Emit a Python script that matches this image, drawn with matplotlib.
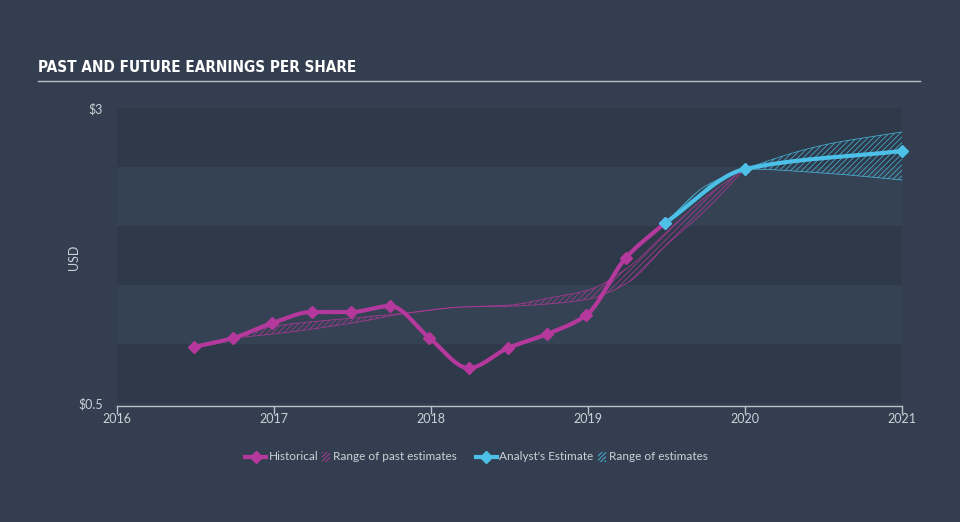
import numpy as np
import matplotlib
matplotlib.use('Agg')
from matplotlib import pyplot as plt
from matplotlib.lines import Line2D
from matplotlib.patches import Rectangle

# data
hist_years = [2016.49, 2016.74, 2016.99, 2017.24, 2017.49, 2017.74, 2017.99,
              2018.24, 2018.49, 2018.74, 2018.99, 2019.24, 2019.49]
hist_eps = [0.975, 1.051, 1.178, 1.271, 1.271, 1.322, 1.051,
            0.797, 0.966, 1.085, 1.246, 1.729, 2.025]

est_years = [2019.49, 2020.0, 2021.0]
est_eps = [2.025, 2.483, 2.636]

past_rng_years = [2016.74, 2017.0, 2017.5, 2017.85, 2018.2, 2018.5, 2018.75,
                  2019.0, 2019.25, 2019.5, 2019.75, 2020.0]
past_hi = [1.05, 1.15, 1.22, 1.263, 1.314, 1.33, 1.39, 1.457, 1.644, 1.949, 2.246, 2.483]
past_lo = [1.05, 1.085, 1.178, 1.263, 1.314, 1.32, 1.34, 1.38, 1.517, 1.839, 2.136, 2.483]

est_rng_years = [2019.49, 2019.75, 2020.0, 2020.5, 2021.0]
est_hi = [2.025, 2.34, 2.483, 2.686, 2.797]
est_lo = [2.025, 2.29, 2.483, 2.449, 2.39]

xticks = [2016, 2017, 2018, 2019, 2020, 2021]
legend_labels = ['Historical', 'Range of past estimates', "Analyst's Estimate", 'Range of estimates']

BG = '#333f50'
DARK = '#2e3a4a'
LIGHT = '#354253'
MAG = '#b5399c'
CYAN = '#4cc0e6'
TXT = '#ccd1d7'


def smooth(x, y, n=300):
    # monotone cubic (Fritsch-Carlson) just for drawing
    x = np.asarray(x, float); y = np.asarray(y, float)
    h = np.diff(x); d = np.diff(y) / h
    m = np.zeros_like(y)
    m[0] = d[0]; m[-1] = d[-1]
    for i in range(1, len(y) - 1):
        if d[i - 1] * d[i] <= 0:
            m[i] = 0
        else:
            w1 = 2 * h[i] + h[i - 1]; w2 = h[i] + 2 * h[i - 1]
            m[i] = (w1 + w2) / (w1 / d[i - 1] + w2 / d[i])
    xs = np.linspace(x[0], x[-1], n)
    k = np.clip(np.searchsorted(x, xs) - 1, 0, len(h) - 1)
    t = (xs - x[k]) / h[k]
    ys = ((2*t**3 - 3*t**2 + 1) * y[k] + (t**3 - 2*t**2 + t) * h[k] * m[k]
          + (-2*t**3 + 3*t**2) * y[k + 1] + (t**3 - t**2) * h[k] * m[k + 1])
    return xs, ys


plt.rcParams['hatch.linewidth'] = 0.6
plt.rcParams['font.family'] = ['Lato', 'DejaVu Sans']
fig = plt.figure(figsize=(9.6, 5.22), dpi=100, facecolor=BG)
ax = fig.add_axes([117/960, 1 - 406/522, 785/960, 298/522])
ax.set_facecolor(BG)
ax.set_xlim(2016, 2021)
ax.set_ylim(0.475, 3)

# alternating bands
for i, lo in enumerate(np.arange(0.5, 3.0, 0.5)):
    ax.axhspan(lo, lo + 0.5, color=DARK if i % 2 == 0 else LIGHT, lw=0, zorder=0)

# ranges
px, ph = smooth(past_rng_years, past_hi)
_, pl = smooth(past_rng_years, past_lo)
ax.fill_between(px, pl, ph, facecolor='none', edgecolor=MAG, hatch='//////', lw=0, zorder=1, alpha=0.8)
ax.plot(px, ph, color=MAG, lw=0.6, alpha=0.8, zorder=1)
ax.plot(px, pl, color=MAG, lw=0.6, alpha=0.8, zorder=1)

ex, eh = smooth(est_rng_years, est_hi)
_, el = smooth(est_rng_years, est_lo)
ax.fill_between(ex, el, eh, facecolor='none', edgecolor=CYAN, hatch='//////', lw=0, zorder=1, alpha=0.8)
ax.plot(ex, eh, color=CYAN, lw=0.6, alpha=0.8, zorder=1, clip_on=False)
ax.plot(ex, el, color=CYAN, lw=0.6, alpha=0.8, zorder=1, clip_on=False)

# lines
hx, hy = smooth(hist_years, hist_eps)
ax.plot(hx, hy, color=MAG, lw=3, zorder=3, solid_capstyle='round')
ax.plot(hist_years, hist_eps, 'D', color=MAG, ms=6, zorder=4)
sx, sy = smooth(est_years, est_eps)
ax.plot(sx, sy, color=CYAN, lw=3, zorder=3, solid_capstyle='round', clip_on=False)
ax.plot(est_years, est_eps, 'D', color=CYAN, ms=6, zorder=4, clip_on=False)

# axes styling
for s in ['top', 'right', 'left']:
    ax.spines[s].set_visible(False)
ax.spines['bottom'].set_color('#b9c0c8')
ax.spines['bottom'].set_linewidth(1)
ax.set_xticks(xticks)
ax.set_xticklabels([str(v) for v in xticks])
ax.tick_params(axis='x', colors='#b9c0c8', length=6, width=1, labelcolor=TXT,
               labelsize=9, pad=-1)
ax.set_yticks([0.5, 3])
ax.set_yticklabels(['$0.5', '$3'])
ax.tick_params(axis='y', length=0, labelcolor=TXT, labelsize=9, pad=10)
ax.set_ylabel('USD', color=TXT, fontsize=9)
ax.yaxis.set_label_coords(-0.047, 0.5)

# title
fig.text(38/960, 1 - 68/522, 'PAST AND FUTURE EARNINGS PER SHARE', color='white',
         fontsize=11, fontweight='bold', fontstretch='condensed',
         family=['DejaVu Sans'], va='center', ha='left')
fig.add_artist(Line2D([38/960, 920/960], [1 - 81/522, 1 - 81/522], color='#b8bec6', lw=1))

# legend, laid out by hand
ly = 1 - 457/522
def fx(p):
    return p / 960

for x0, col in [(245, MAG), (476, CYAN)]:
    fig.add_artist(Line2D([fx(x0), fx(x0 + 21)], [ly, ly], color=col, lw=3))
    fig.add_artist(Line2D([fx(x0 + 10.5)], [ly], color=col, marker='D', ms=6))
for x0, col in [(322, MAG), (598, CYAN)]:
    fig.add_artist(Rectangle((fx(x0), ly - 5/522), fx(8), 10/522, facecolor='none',
                             edgecolor=col, hatch='////////', lw=0, transform=fig.transFigure))
for xt, lab in zip([269, 333, 499, 609], legend_labels):
    fig.text(fx(xt), ly, lab, color=TXT, fontsize=8.5, va='center', ha='left')

fig.savefig('out.png', dpi=100, facecolor=BG)
